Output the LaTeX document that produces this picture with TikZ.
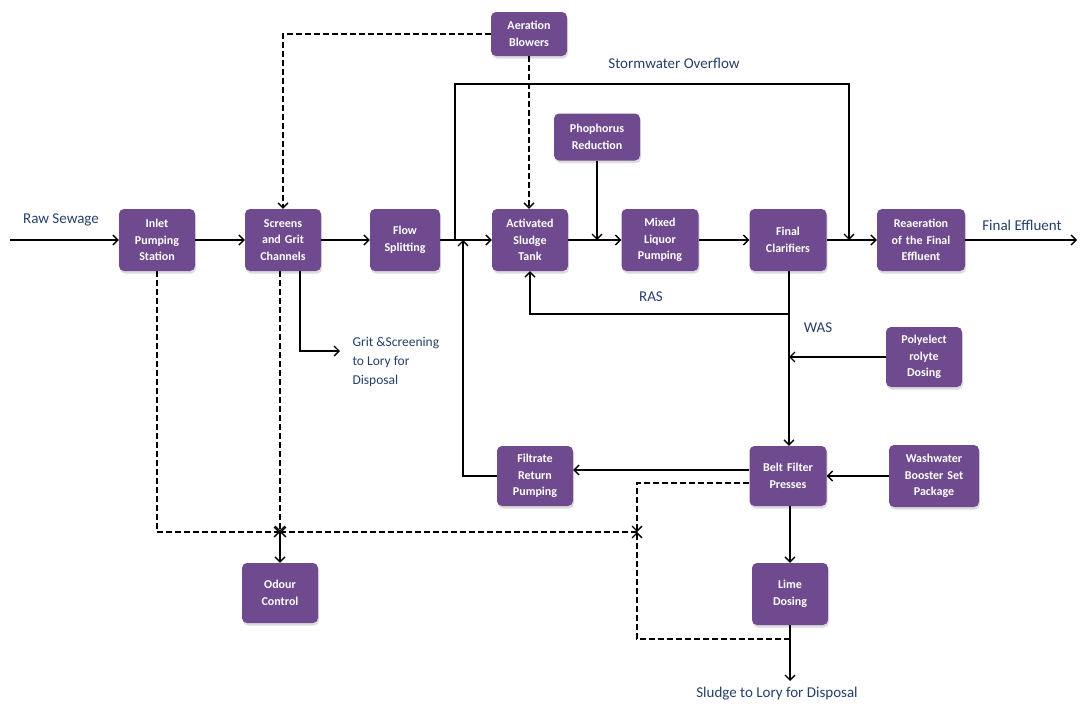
\documentclass[tikz,border=0pt]{standalone}
\usepackage{fontspec}
\setmainfont{Carlito}
\usetikzlibrary{positioning,shadows,arrows.meta}
\definecolor{unitpurple}{HTML}{6F4A8E}
\definecolor{labelblue}{HTML}{26406C}
\tikzset{
  unit/.style={fill=unitpurple, rounded corners=5pt, minimum width=75pt, minimum height=62pt,
    text width=74pt, align=center, text=white, inner sep=1pt,
    font=\fontsize{12}{16.5}\selectfont\bfseries,
    drop shadow={shadow xshift=1pt, shadow yshift=-2.5pt, fill=gray!45, opacity=0.6}},
  flowlabel/.style={text=labelblue, font=\fontsize{15}{19}\selectfont},
  flow/.style={line width=1.3pt, -{Straight Barb[length=5pt,width=10pt,line width=1.3pt]}},
  airflow/.style={flow, dash pattern=on 6pt off 3pt},
}
\begin{document}
\begin{tikzpicture}[x=1pt,y=-1pt]
\useasboundingbox[fill=white] (0,0) rectangle (1081,707);
% Drawing units
\node[unit] (inlet) at (157,240) {Inlet\\Pumping\\Station};
\node[unit] (screens) at (283,240) {Screens\\and Grit\\Channels};
\node[unit, minimum width=70pt, text width=68pt] (split) at (405,240) {Flow\\Splitting};
\node[unit, minimum height=44pt] (blowers) at (529,34) {Aeration\\Blowers};
\node[unit] (ast) at (530,240) {Activated\\Sludge\\Tank};
\node[unit, minimum width=86pt, text width=84pt, minimum height=47pt] (phos) at (597,137) {Phophorus\\Reduction};
\node[unit, minimum width=77pt] (mixed) at (660,240) {Mixed\\Liquor\\Pumping};
\node[unit, minimum width=77pt] (final) at (788,240) {Final\\Clarifiers};
\node[unit, minimum width=88pt, text width=86pt] (reaer) at (921,240) {Reaeration\\of the Final\\Effluent};
\node[unit, minimum width=76pt, minimum height=60pt] (poly) at (924,357) {Polyelect\\rolyte\\Dosing};
\node[unit, minimum width=77pt, minimum height=60pt] (belt) at (788,476) {Belt Filter\\Presses};
\node[unit, minimum width=90pt, text width=88pt] (wash) at (934,476) {Washwater\\Booster Set\\Package};
\node[unit, minimum width=76pt, minimum height=60pt] (filtrate) at (535,476) {Filtrate\\Return\\Pumping};
\node[unit, minimum width=76pt] (lime) at (790,594) {Lime\\Dosing};
\node[unit, minimum width=75pt, minimum height=60pt] (odour) at (280,593) {Odour\\Control};
% Done with units; drawing labels
\node[flowlabel] (rawlbl) at (61,220) {Raw Sewage};
\node[flowlabel] (stormlbl) at (674,63) {Stormwater Overflow};
\node[flowlabel] (efflbl) at (1022,225) {Final Effluent};
\node[flowlabel] (raslbl) at (651,297) {RAS};
\node[flowlabel] (waslbl) at (818,328) {WAS};
\node[flowlabel, align=left, anchor=north west, font=\fontsize{13.5}{19}\selectfont] (gritlbl) at (349,334) {Grit \&Screening\\to Lory for\\Disposal};
\node[flowlabel] (sludgelbl) at (777,694) {Sludge to Lory for Disposal};
% Junctions and free ends
\coordinate (rawin) at (10,240);
\coordinate (effout) at (1077,240);
\coordinate (storm) at (455,240);
\coordinate (stormin) at (849,240);
\coordinate (filtin) at (463,240);
\coordinate (phosin) at (597,240);
\coordinate (ras) at (789,314);
\coordinate (gritend) at (340,351);
\coordinate (odj) at (280,532);
\coordinate (dj) at (637,532);
\coordinate (limej) at (790,639);
\coordinate (sludgeend) at (790,681);
% Main line
\draw[flow] (rawin) -- (inlet.west);
\draw[flow] (inlet) -- (screens);
\draw[flow] (screens) -- (split);
\draw[flow] (split) -- (ast);
\draw[flow] (ast) -- (mixed);
\draw[flow] (mixed) -- (final);
\draw[flow] (final) -- (reaer);
\draw[flow] (reaer.east) -- (effout);
% Stormwater, phosphorus and filtrate return
\draw[flow] (storm) -- (455,84) -| (stormin);
\draw[flow] (phos.south) -- (phosin);
\draw[flow] (filtrate.west) -| (filtin);
% Aeration
\draw[airflow] (blowers.west) -| (screens.north);
\draw[airflow] (blowers.south) -- (blowers.south |- ast.north);
% RAS and WAS
\draw[flow] (final.south -| ras) -- (ras) -| (ast.south);
\draw[flow] (ras) -- (belt.north -| ras);
\draw[flow] (poly.west) -- (poly.west -| ras);
\draw[flow] (wash.west) -- (belt.east);
\draw[flow] ([yshift=6pt]belt.west) -- ([yshift=6pt]filtrate.east);
% Sludge line
\draw[flow] (belt.south -| lime) -- (lime.north);
\draw[flow] (lime.south) -- (sludgeend);
% Grit
\draw[flow] ([xshift=17pt]screens.south) |- (gritend);
% Odour collection
\draw[airflow] ([yshift=-7pt]belt.west) -| (dj);
\draw[airflow] (limej) -| (dj);
\draw[airflow] (dj) -- (odj);
\draw[airflow] (inlet.south) |- (odj);
\draw[airflow] (screens.south -| odj) -- (odj);
\draw[flow] (odj) -- (odour.north);
\end{tikzpicture}
\end{document}
